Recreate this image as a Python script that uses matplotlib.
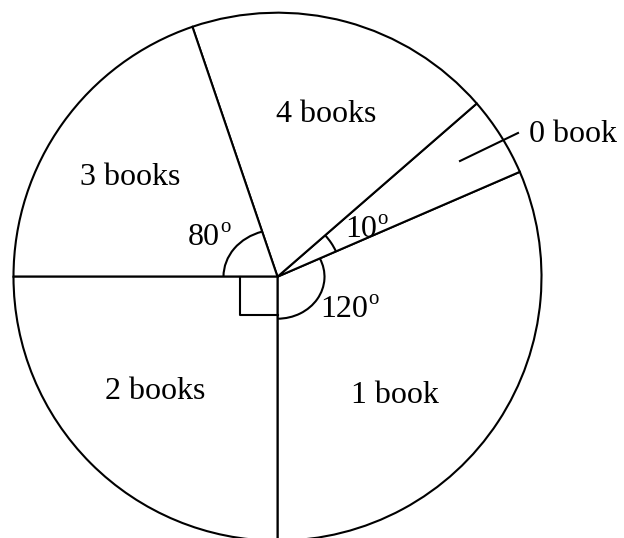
import numpy as np
import matplotlib
matplotlib.use("Agg")
import matplotlib.pyplot as plt
from matplotlib.patches import Arc

# wedge sizes as drawn (degrees), going anticlockwise from straight down
labels = ['1 book', '0 book', '4 books', '3 books', '2 books']
drawn_angles = [113.4, 17.6, 67.8, 71.2, 90.0]
# angles written on the figure
marked = {'1 book': 120, '0 book': 10, '3 books': 80}

plt.rcParams['font.family'] = ['Liberation Serif', 'DejaVu Serif']

W, H = 624, 538
cx, cy, R = 277.5, 276.7, 264.0   # pie centre and radius in pixels


def px(x, y):
    # pixel position (from top-left) -> data units of the pie
    return (x - cx) / R, (cy - y) / R


fig = plt.figure(figsize=(W / 100, H / 100), dpi=100)
ax = fig.add_axes([0, 0, 1, 1])

ax.pie(drawn_angles, startangle=270, counterclock=True,
       colors=['white'] * len(labels),
       wedgeprops=dict(edgecolor='black', linewidth=1.5))

ax.set_xlim(-cx / R, (W - cx) / R)
ax.set_ylim(-(H - cy) / R, cy / R)
ax.set_aspect('auto')
ax.axis('off')

fs = 23
# label centre x and baseline y, in pixels
label_pos = {
    '4 books': (326, 122.5),
    '3 books': (130, 185),
    '2 books': (155, 399),
    '1 book': (395, 403),
}
for name, (x, y) in label_pos.items():
    ax.text(*px(x, y), name, fontsize=fs, ha='center', va='baseline')

# 0 book label with leader line
ax.text(*px(529, 142), '0 book', fontsize=fs, ha='left', va='baseline')
x0, y0 = px(460, 161)
x1, y1 = px(518, 133)
ax.plot([x0, x1], [y0, y1], color='black', lw=1.5)

# boundaries of each wedge
edges = 270 + np.concatenate([[0], np.cumsum(drawn_angles)])
start = dict(zip(labels, edges[:-1]))
end = dict(zip(labels, edges[1:]))

# angle arcs
arc_kw = dict(color='black', lw=1.5)
ax.add_patch(Arc((0, 0), 2 * 47 / R, 2 * 42 / R,
                 theta1=start['1 book'] - 360, theta2=end['1 book'] - 360, **arc_kw))
ax.add_patch(Arc((0, 0), 2 * 64 / R, 2 * 62 / R,
                 theta1=start['0 book'] - 360, theta2=end['0 book'] - 360, **arc_kw))
ax.add_patch(Arc((0, 0), 2 * 54 / R, 2 * 47 / R,
                 theta1=start['3 books'] - 360, theta2=end['3 books'] - 360, **arc_kw))

# right angle box for 2 books
s = 38 / R
ax.plot([-s, -s, 0], [0, -s, -s], color='black', lw=1.5)


# angle texts with a raised small o
def angle_text(x, y, val):
    t = ax.text(*px(x, y), str(val), fontsize=fs, ha='left', va='baseline')
    fig.canvas.draw()
    bb = t.get_window_extent()
    xe, _ = ax.transData.inverted().transform((bb.x1, bb.y1))
    ax.text(xe, px(0, y - 13)[1], 'o', fontsize=15, ha='left', va='baseline')


angle_text(188, 245, marked['3 books'])
angle_text(345, 237, marked['0 book'])
angle_text(320, 317, marked['1 book'])

fig.savefig('out.png', dpi=100)
